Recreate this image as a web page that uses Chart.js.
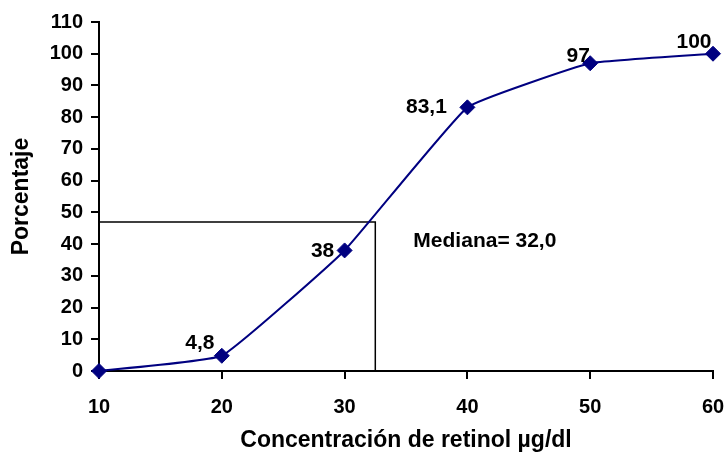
<!DOCTYPE html>
<html>
<head>
<meta charset="utf-8">
<script src="https://cdn.jsdelivr.net/npm/chart.js@4"></script>
<style>
  html, body { margin: 0; padding: 0; background: #fff; }
  #wrap { width: 727px; height: 459px; }
</style>
</head>
<body>
<div id="wrap"><canvas id="chart" width="727" height="459"></canvas></div>
<script>
// datos
const concentracion = [10, 20, 30, 40, 50, 60];
const porcentaje = [0, 4.8, 38, 83.1, 97, 100];
const etiquetas = ['', '4,8', '38', '83,1', '97', '100'];
const medianaX = 32.5;
const medianaY = 47;
const medianaTexto = 'Mediana= 32,0';
const yTicks = [0, 10, 20, 30, 40, 50, 60, 70, 80, 90, 100, 110];

const FONT = '"Liberation Sans", Arial, sans-serif';
const NAVY = '#000080';

// desplazamiento de cada etiqueta respecto al punto (px)
const labelOffsets = [[0, 0], [-22, -13], [-22, 1], [-41, 0], [-12, -7], [-19, -12]];

const dataLabels = {
  id: 'dataLabels',
  afterDatasetsDraw(chart) {
    const ctx = chart.ctx;
    const meta = chart.getDatasetMeta(0);
    ctx.save();
    ctx.font = 'bold 21px ' + FONT;
    ctx.fillStyle = '#000';
    ctx.textAlign = 'center';
    ctx.textBaseline = 'middle';
    meta.data.forEach((pt, i) => {
      if (!etiquetas[i]) return;
      const off = labelOffsets[i];
      ctx.fillText(etiquetas[i], pt.x + off[0], pt.y + off[1]);
    });
    // texto de la mediana
    const xs = chart.scales.x, ys = chart.scales.y;
    ctx.textAlign = 'left';
    ctx.fillText(medianaTexto, xs.getPixelForValue(35.6), ys.getPixelForValue(41.0));
    ctx.restore();
  }
};

new Chart(document.getElementById('chart'), {
  type: 'line',
  data: {
    datasets: [
      {
        label: 'Porcentaje',
        data: concentracion.map((c, i) => ({ x: c, y: porcentaje[i] })),
        borderColor: NAVY,
        backgroundColor: NAVY,
        borderWidth: 2,
        pointStyle: 'rectRot',
        pointRadius: 7.5,
        pointBorderWidth: 1,
        tension: 0.1,
        clip: false,
        order: 0
      },
      {
        label: 'Mediana',
        data: [{ x: 10, y: medianaY }, { x: medianaX, y: medianaY }, { x: medianaX, y: 0 }],
        borderColor: '#000',
        borderWidth: 1.5,
        pointRadius: 0,
        tension: 0,
        order: 1
      }
    ]
  },
  options: {
    responsive: false,
    animation: false,
    devicePixelRatio: 1,
    layout: { padding: { top: 22, right: 14, left: 0, bottom: 0 } },
    plugins: {
      legend: { display: false },
      tooltip: { enabled: false }
    },
    scales: {
      x: {
        type: 'linear',
        min: 10,
        max: 60,
        afterFit: s => { s.height = 88; s.paddingLeft = 0; s.paddingRight = 0; },
        ticks: {
          stepSize: 10,
          padding: 16,
          color: '#000',
          font: { family: FONT, size: 20, weight: 'bold' }
        },
        grid: { drawOnChartArea: false, color: '#000', lineWidth: 2, tickLength: 8 },
        border: { color: '#000', width: 2 },
        title: {
          display: true,
          text: 'Concentración de retinol µg/dl',
          color: '#000',
          font: { family: FONT, size: 23, weight: 'bold' },
          padding: { top: 0, bottom: 5 }
        }
      },
      y: {
        type: 'linear',
        min: 0,
        max: 110,
        afterFit: s => { s.width = 99; },
        afterBuildTicks: s => { s.ticks = yTicks.map(v => ({ value: v })); },
        ticks: {
          padding: 8,
          color: '#000',
          font: { family: FONT, size: 20, weight: 'bold' }
        },
        grid: { drawOnChartArea: false, color: '#000', lineWidth: 2, tickLength: 8 },
        border: { color: '#000', width: 2 },
        title: {
          display: true,
          text: 'Porcentaje',
          color: '#000',
          font: { family: FONT, size: 23, weight: 'bold' },
          padding: { top: 8, bottom: 0 }
        }
      }
    }
  },
  plugins: [dataLabels]
});
</script>
</body>
</html>
